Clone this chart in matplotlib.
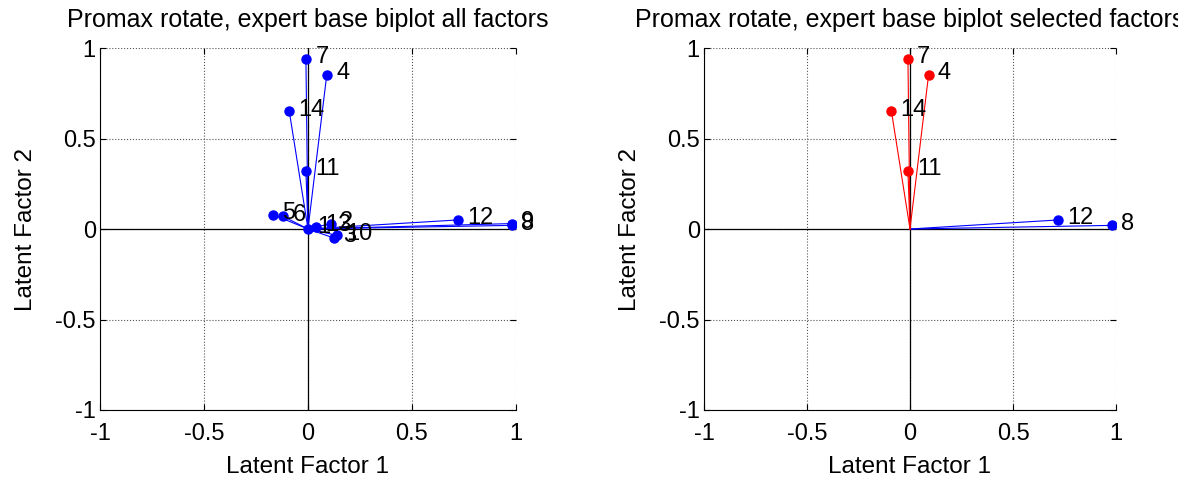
import matplotlib
matplotlib.use("Agg")
import matplotlib.pyplot as plt
import numpy as np

plt.rcParams['font.family'] = ['Liberation Sans', 'DejaVu Sans']

# Factor loadings (variables 1..14)
var_labels = ['1', '2', '3', '4', '5', '6', '7', '8', '9', '10', '11', '12', '13', '14']
factor1 = [0.00, 0.11, 0.125, 0.09, -0.17, -0.12, -0.01, 0.98, 0.98, 0.14, -0.01, 0.72, 0.04, -0.09]
factor2 = [0.00, 0.03, -0.05, 0.85, 0.08, 0.07, 0.94, 0.02, 0.03, -0.035, 0.32, 0.05, 0.01, 0.65]

# selected factors for right plot
sel_red = ['4', '7', '11', '14']
sel_blue = ['8', '12']

ticks = [-1, -0.5, 0, 0.5, 1]
tick_labels = ['-1', '-0.5', '0', '0.5', '1']

fig = plt.figure(figsize=(11.78, 4.79), dpi=100)
ax1 = fig.add_axes([100/1178, 1-410/479, 416/1178, 362/479])
ax2 = fig.add_axes([704/1178, 1-410/479, 412/1178, 362/479])


def style(ax, title):
    ax.set_xlim(-1, 1)
    ax.set_ylim(-1, 1)
    ax.set_xticks(ticks)
    ax.set_yticks(ticks)
    ax.set_xticklabels(tick_labels)
    ax.set_yticklabels(tick_labels)
    ax.tick_params(direction='in', length=4, labelsize=17, top=True, right=True)
    ax.tick_params(axis='x', pad=9)
    ax.tick_params(axis='y', pad=3)
    ax.grid(True, linestyle=':', color='#555555', linewidth=0.8)
    ax.spines['top'].set_visible(False)
    ax.spines['right'].set_visible(False)
    ax.set_title(title, fontsize=18, pad=15)
    ax.set_xlabel('Latent Factor 1', fontsize=17.5, labelpad=8)
    ax.set_ylabel('Latent Factor 2', fontsize=17.5, labelpad=13)
    ax.plot([-1, 1], [0, 0], color='black', linewidth=0.9, zorder=2)
    ax.plot([0, 0], [-1, 1], color='black', linewidth=0.9, zorder=2)


def draw(ax, idxs, color):
    for i in idxs:
        x, y = factor1[i], factor2[i]
        ax.plot([0, x], [0, y], color=color, linewidth=0.8, zorder=3)
        ax.plot(x, y, 'o', color=color, markersize=6.5, zorder=4)
        ax.text(x + 0.045, y + 0.01, var_labels[i], fontsize=17, ha='left', va='center', zorder=5)


style(ax1, 'Promax rotate, expert base biplot all factors')
draw(ax1, range(len(var_labels)), 'blue')

style(ax2, 'Promax rotate, expert base biplot selected factors')
draw(ax2, [var_labels.index(s) for s in sel_blue], 'blue')
draw(ax2, [var_labels.index(s) for s in sel_red], 'red')

fig.savefig('out.png', dpi=100)
